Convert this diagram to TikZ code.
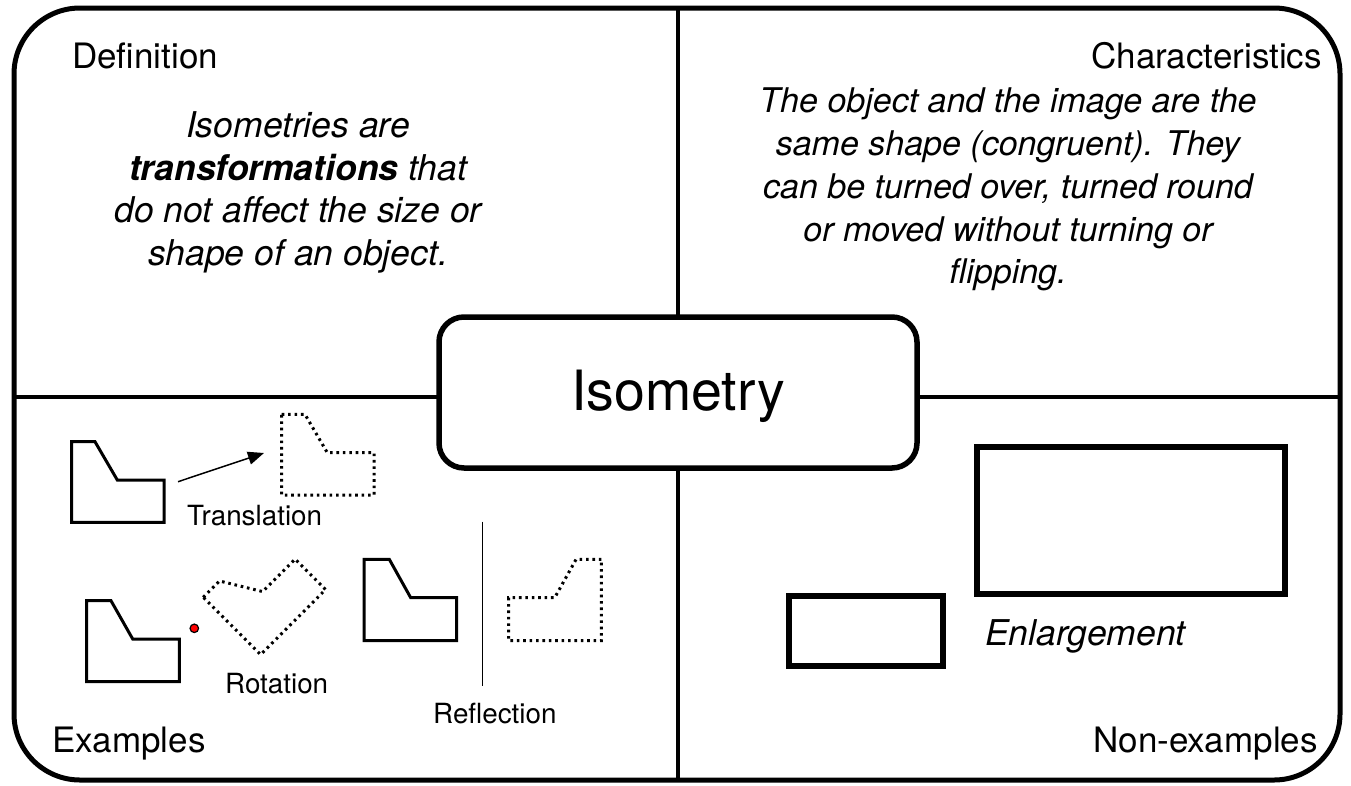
\documentclass[tikz,border=0pt]{standalone}
\usepackage{fontspec}
\setmainfont{TeX Gyre Heros}
\usetikzlibrary{arrows.meta}
\begin{document}
\begin{tikzpicture}[x=1pt,y=-1pt,
  lbl/.style={inner sep=0pt, font=\fontsize{35}{41}\selectfont},
  body/.style={inner sep=0pt, font=\fontsize{35.5}{43}\selectfont\itshape, anchor=base},
  cbody/.style={inner sep=0pt, font=\fontsize{34}{43}\selectfont\itshape, anchor=base},
  small/.style={inner sep=0pt, font=\fontsize{27.8}{33}\selectfont, anchor=base west},
  solidshape/.style={draw, line width=3pt, line join=miter},
  dotshape/.style={draw, line width=3pt, dash pattern=on 2.6pt off 3.8pt},
  divider/.style={line width=4.5pt},
  thin/.style={line width=1.5pt},
]
\useasboundingbox (0,0) rectangle (1351,785);
% frame and dividers
\coordinate (dT) at (678,8);
\coordinate (dB) at (678,780);
\coordinate (dL) at (14,397);
\coordinate (dR) at (1340,397);
\draw[divider] (dT) -- (dB);
\draw[divider] (dL) -- (dR);
\node[draw, line width=5pt, rounded corners=66pt, minimum width=1326pt, minimum height=772pt, inner sep=0pt] (frame) at (677,394) {};
\node[draw, fill=white, line width=5.5pt, rounded corners=25pt, minimum width=478pt, minimum height=151pt, inner sep=0pt,
      text height=39pt, text depth=3pt, font=\fontsize{55.5}{60}\selectfont] (iso) at (678,392.5) {Isometry};

% quadrant titles
\node[lbl, anchor=base west] (tdef) at (72,68) {Definition};
\node[lbl, anchor=base east] (tchar) at (1322,68) {Characteristics};
\node[lbl, anchor=base west] (tex) at (52,752) {Examples};
\node[lbl, anchor=base east] (tnon) at (1318,752) {Non-examples};

% definition text
\node[body] (d1) at (298,137) {Isometries are};
\node[body] (d2) at (298,180) {\textbf{transformations} that};
\node[body] (d3) at (298,222.5) {do not affect the size or};
\node[body] (d4) at (298,265) {shape of an object.};

% characteristics text
\node[cbody] (c1) at (1008,112) {The object and the image are the};
\node[cbody] (c2) at (1008,155) {same shape (congruent). They};
\node[cbody] (c3) at (1008,198) {can be turned over, turned round};
\node[cbody] (c4) at (1008,241) {or moved without turning or};
\node[cbody] (c5) at (1008,283) {flipping.};

% translation
\draw[solidshape] (71.7,441.7) -- (95,441.7) -- (117.3,480) -- (164,480) -- (164,522.3) -- (71.7,522.3) -- cycle;
\draw[dotshape] (281.7,414.4) -- (305,414.4) -- (327.3,452.7) -- (374,452.7) -- (374,495) -- (281.7,495) -- cycle;
\coordinate (tA) at (178,481.7);
\coordinate (tB) at (264,453);
\draw[thin, -{Triangle[length=16pt,width=13pt]}] (tA) -- (tB);
\node[small] (ltr) at (187,525) {Translation};

% rotation
\draw[solidshape] (86.7,600.7) -- (111,600.7) -- (132.7,639) -- (179.3,639) -- (179.3,681.7) -- (86.7,681.7) -- cycle;
\draw[dotshape] (203.3,597.3) -- (219.6,581) -- (262.7,591.6) -- (295.2,559.1) -- (325.6,589.5) -- (260.6,654.6) -- cycle;
\node[circle, fill=red, draw=black, line width=1.2pt, minimum size=8.5pt, inner sep=0pt] (pivot) at (194.3,628.3) {};
\node[small] (lrot) at (225,693) {Rotation};

% reflection
\draw[solidshape] (364,559.3) -- (389.3,559.3) -- (410.7,597.7) -- (456.7,597.7) -- (456.7,640.7) -- (364,640.7) -- cycle;
\coordinate (mA) at (482.7,521.7);
\coordinate (mB) at (482.7,686);
\draw[thin] (mA) -- (mB);
\draw[dotshape] (601.4,559.3) -- (576.1,559.3) -- (554.7,597.7) -- (508.7,597.7) -- (508.7,640.7) -- (601.4,640.7) -- cycle;
\node[small] (lref) at (433,723) {Reflection};

% non-examples
\draw[line width=5.5pt] (977,447) rectangle (1285,594);
\draw[line width=5.5pt] (789,596) rectangle (943,666);
\node[inner sep=0pt, anchor=base west, font=\fontsize{35.5}{40}\selectfont\itshape] (lenl) at (985,645) {Enlargement};
\end{tikzpicture}
\end{document}
